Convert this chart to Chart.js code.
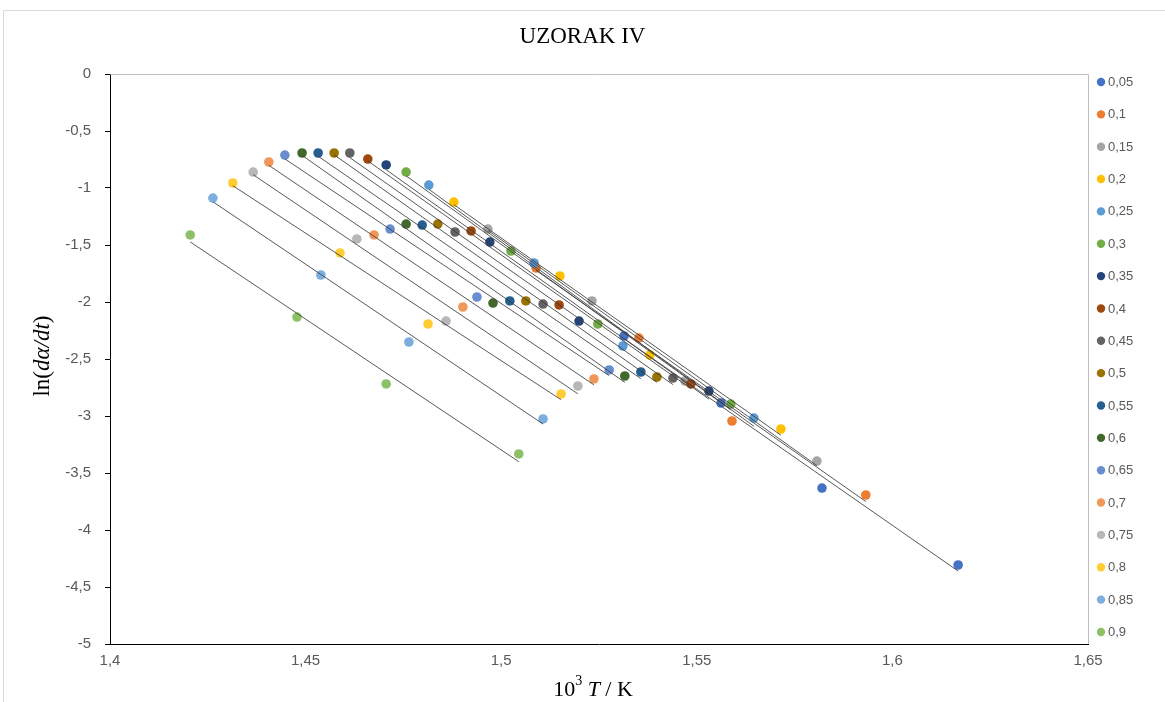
<!DOCTYPE html>
<html>
<head>
<meta charset="utf-8">
<script src="https://cdn.jsdelivr.net/npm/chart.js@4.4.1/dist/chart.umd.min.js"></script>
<style>
  html, body { margin: 0; padding: 0; background: #ffffff; }
  #wrap { width: 1165px; height: 702px; position: relative; }
</style>
</head>
<body>
<div id="wrap"><canvas id="c" width="1165" height="702"></canvas></div>
<script>
// ---- data ----
const alphaLabels = ['0,05','0,1','0,15','0,2','0,25','0,3','0,35','0,4','0,45','0,5','0,55','0,6','0,65','0,7','0,75','0,8','0,85','0,9'];

const seriesColors = ['#4472C4','#ED7D31','#A5A5A5','#FFC000','#5B9BD5','#70AD47','#264478','#9E480E','#636363','#997300','#255E91','#43682B','#698ED0','#F1975A','#B7B7B7','#FFCD33','#7CAFDD','#8CC168'];

// 10^3 T / K values per series
const xData = [
  [1.5314, 1.5562, 1.5820, 1.6168],
  [1.5089, 1.5352, 1.5590, 1.5932],
  [1.4966, 1.5232, 1.5470, 1.5807],
  [1.4879, 1.5150, 1.5380, 1.5715],
  [1.4815, 1.5084, 1.5311, 1.5646],
  [1.4757, 1.5025, 1.5247, 1.5587],
  [1.4706, 1.4971, 1.5199, 1.5531],
  [1.4659, 1.4923, 1.5148, 1.5485],
  [1.4613, 1.4882, 1.5107, 1.5439],
  [1.4573, 1.4838, 1.5063, 1.5398],
  [1.4532, 1.4798, 1.5022, 1.5357],
  [1.4491, 1.4757, 1.4979, 1.5316],
  [1.4447, 1.4716, 1.4938, 1.5276],
  [1.4406, 1.4675, 1.4902, 1.5237],
  [1.4366, 1.4631, 1.4859, 1.5196],
  [1.4314, 1.4588, 1.4813, 1.5153],
  [1.4263, 1.4539, 1.4764, 1.5107],
  [1.4205, 1.4478, 1.4706, 1.5045]
];

// ln(dα/dt) values per series
const yData = [
  [-2.298, -2.886, -3.632, -4.307],
  [-1.702, -2.316, -3.044, -3.693],
  [-1.360, -1.991, -2.693, -3.395],
  [-1.123, -1.772, -2.465, -3.114],
  [-0.974, -1.658, -2.386, -3.018],
  [-0.860, -1.553, -2.193, -2.895],
  [-0.798, -1.474, -2.167, -2.781],
  [-0.746, -1.377, -2.026, -2.719],
  [-0.693, -1.386, -2.018, -2.667],
  [-0.693, -1.316, -1.991, -2.658],
  [-0.693, -1.325, -1.991, -2.614],
  [-0.693, -1.316, -2.009, -2.649],
  [-0.711, -1.360, -1.956, -2.596],
  [-0.772, -1.412, -2.044, -2.675],
  [-0.860, -1.447, -2.167, -2.737],
  [-0.956, -1.570, -2.193, -2.807],
  [-1.088, -1.763, -2.351, -3.026],
  [-1.412, -2.132, -2.719, -3.333]
];

const xTicks = [1.4, 1.45, 1.5, 1.55, 1.6, 1.65];
const yTicks = [0, -0.5, -1, -1.5, -2, -2.5, -3, -3.5, -4, -4.5, -5];

const chartTitle = 'UZORAK IV';
// axis titles as styled runs: [text, italic, superscript]
const yTitleRuns = [['ln(', false, false], ['dα/dt', true, false], [')', false, false]];
const xTitleRuns = [['10', false, false], ['3', false, true], [' ', false, false], ['T', true, false], [' / K', false, false]];

// ---- helpers ----
const fmt = v => String(Math.round(v * 100) / 100).replace('.', ',');
const SERIF = '"Liberation Serif", "Times New Roman", serif';

function linFit(xs, ys) {
  const n = xs.length;
  const mx = xs.reduce((a, b) => a + b, 0) / n;
  const my = ys.reduce((a, b) => a + b, 0) / n;
  let sxy = 0, sxx = 0;
  for (let i = 0; i < n; i++) { sxy += (xs[i] - mx) * (ys[i] - my); sxx += (xs[i] - mx) ** 2; }
  const b = sxy / sxx;
  return { a: my - b * mx, b };
}

const datasets = [];
alphaLabels.forEach((lab, i) => {
  datasets.push({
    type: 'scatter',
    label: lab,
    data: xData[i].map((x, k) => ({ x, y: yData[i][k] })),
    backgroundColor: seriesColors[i],
    borderColor: seriesColors[i],
    borderWidth: 0,
    pointRadius: 4.8,
    pointHoverRadius: 4.8,
    order: 100 - i
  });
});
alphaLabels.forEach((lab, i) => {
  const f = linFit(xData[i], yData[i]);
  const x0 = Math.min(...xData[i]), x1 = Math.max(...xData[i]);
  datasets.push({
    type: 'line',
    label: 'trend ' + lab,
    data: [{ x: x0, y: f.a + f.b * x0 }, { x: x1, y: f.a + f.b * x1 }],
    borderColor: 'rgba(60,60,60,0.85)',
    borderWidth: 1,
    pointRadius: 0,
    fill: false,
    order: 0
  });
});

function drawRuns(ctx, runs, size, cx, cy) {
  const fontFor = r => (r[1] ? 'italic ' : '') + (r[2] ? Math.round(size * 0.62) : size) + 'px ' + SERIF;
  let total = 0;
  runs.forEach(r => { ctx.font = fontFor(r); total += ctx.measureText(r[0]).width; });
  let x = cx - total / 2;
  runs.forEach(r => {
    ctx.font = fontFor(r);
    ctx.fillText(r[0], x, r[2] ? cy - size * 0.38 : cy);
    x += ctx.measureText(r[0]).width;
  });
}

const framePlugin = {
  id: 'frame',
  beforeDraw(chart) {
    const ctx = chart.ctx;
    ctx.save();
    ctx.fillStyle = '#ffffff';
    ctx.fillRect(0, 0, chart.width, chart.height);
    ctx.strokeStyle = '#D9D9D9';
    ctx.lineWidth = 1;
    ctx.beginPath();
    ctx.moveTo(3.5, chart.height);
    ctx.lineTo(3.5, 10.5);
    ctx.lineTo(chart.width, 10.5);
    ctx.stroke();
    ctx.restore();
  },
  afterDatasetsDraw(chart) {
    const { ctx, chartArea: a } = chart;
    ctx.save();
    ctx.strokeStyle = '#BFBFBF';
    ctx.lineWidth = 1;
    ctx.beginPath();
    ctx.moveTo(Math.round(a.left) + 0.5, Math.round(a.top) + 0.5);
    ctx.lineTo(Math.round(a.right) + 0.5, Math.round(a.top) + 0.5);
    ctx.lineTo(Math.round(a.right) + 0.5, Math.round(a.bottom));
    ctx.stroke();
    ctx.restore();
  },
  afterDraw(chart) {
    const ctx = chart.ctx;
    ctx.save();
    // axis titles with italic runs
    ctx.fillStyle = '#000000';
    ctx.textBaseline = 'middle';
    ctx.textAlign = 'left';
    drawRuns(ctx, xTitleRuns, 22, 593, 690);
    ctx.save();
    ctx.translate(43, 356);
    ctx.rotate(-Math.PI / 2);
    drawRuns(ctx, yTitleRuns, 23, 0, 0);
    ctx.restore();
    // series key on the right
    ctx.font = '13px "Liberation Sans", Arial, sans-serif';
    ctx.textBaseline = 'middle';
    ctx.textAlign = 'left';
    alphaLabels.forEach((lab, i) => {
      const y = 82 + i * 32.35;
      ctx.fillStyle = seriesColors[i];
      ctx.beginPath();
      ctx.arc(1101, y, 4.2, 0, Math.PI * 2);
      ctx.fill();
      ctx.fillStyle = '#595959';
      ctx.fillText(lab, 1108, y + 0.5);
    });
    ctx.restore();
  }
};

new Chart(document.getElementById('c'), {
  data: { datasets },
  options: {
    responsive: false,
    devicePixelRatio: 1,
    animation: false,
    layout: { padding: { left: 0, right: 0, top: 0, bottom: 0 } },
    plugins: {
      legend: { display: false },
      tooltip: { enabled: false },
      title: {
        display: true,
        text: chartTitle,
        color: '#000000',
        font: { family: SERIF, size: 23, weight: 'normal' },
        padding: { top: 23, bottom: 23.4 }
      }
    },
    scales: {
      x: {
        type: 'linear',
        min: 1.4,
        max: 1.65,
        afterBuildTicks: s => { s.ticks = xTicks.map(v => ({ value: v })); },
        afterFit: s => { s.height = 58; },
        ticks: {
          callback: v => fmt(v),
          color: '#595959',
          font: { family: '"Liberation Sans", Arial, sans-serif', size: 15 },
          padding: 8,
          maxRotation: 0
        },
        grid: { display: false, drawTicks: false },
        border: { display: true, color: '#000000', width: 1 },
        title: { display: false }
      },
      y: {
        type: 'linear',
        min: -5,
        max: 0,
        afterBuildTicks: s => { s.ticks = yTicks.map(v => ({ value: v })); },
        afterFit: s => { s.width = 110; },
        ticks: {
          callback: v => fmt(v),
          color: '#595959',
          font: { family: '"Liberation Sans", Arial, sans-serif', size: 15 },
          padding: 14
        },
        grid: { display: true, drawOnChartArea: false, drawTicks: true, tickLength: 5, color: '#000000' },
        border: { display: true, color: '#000000', width: 1 },
        title: { display: false }
      },
      keySpace: {
        type: 'linear',
        axis: 'y',
        position: 'right',
        display: true,
        afterFit: s => { s.width = 77; },
        ticks: { display: false },
        grid: { display: false, drawTicks: false },
        border: { display: false }
      }
    }
  },
  plugins: [framePlugin]
});
</script>
</body>
</html>
